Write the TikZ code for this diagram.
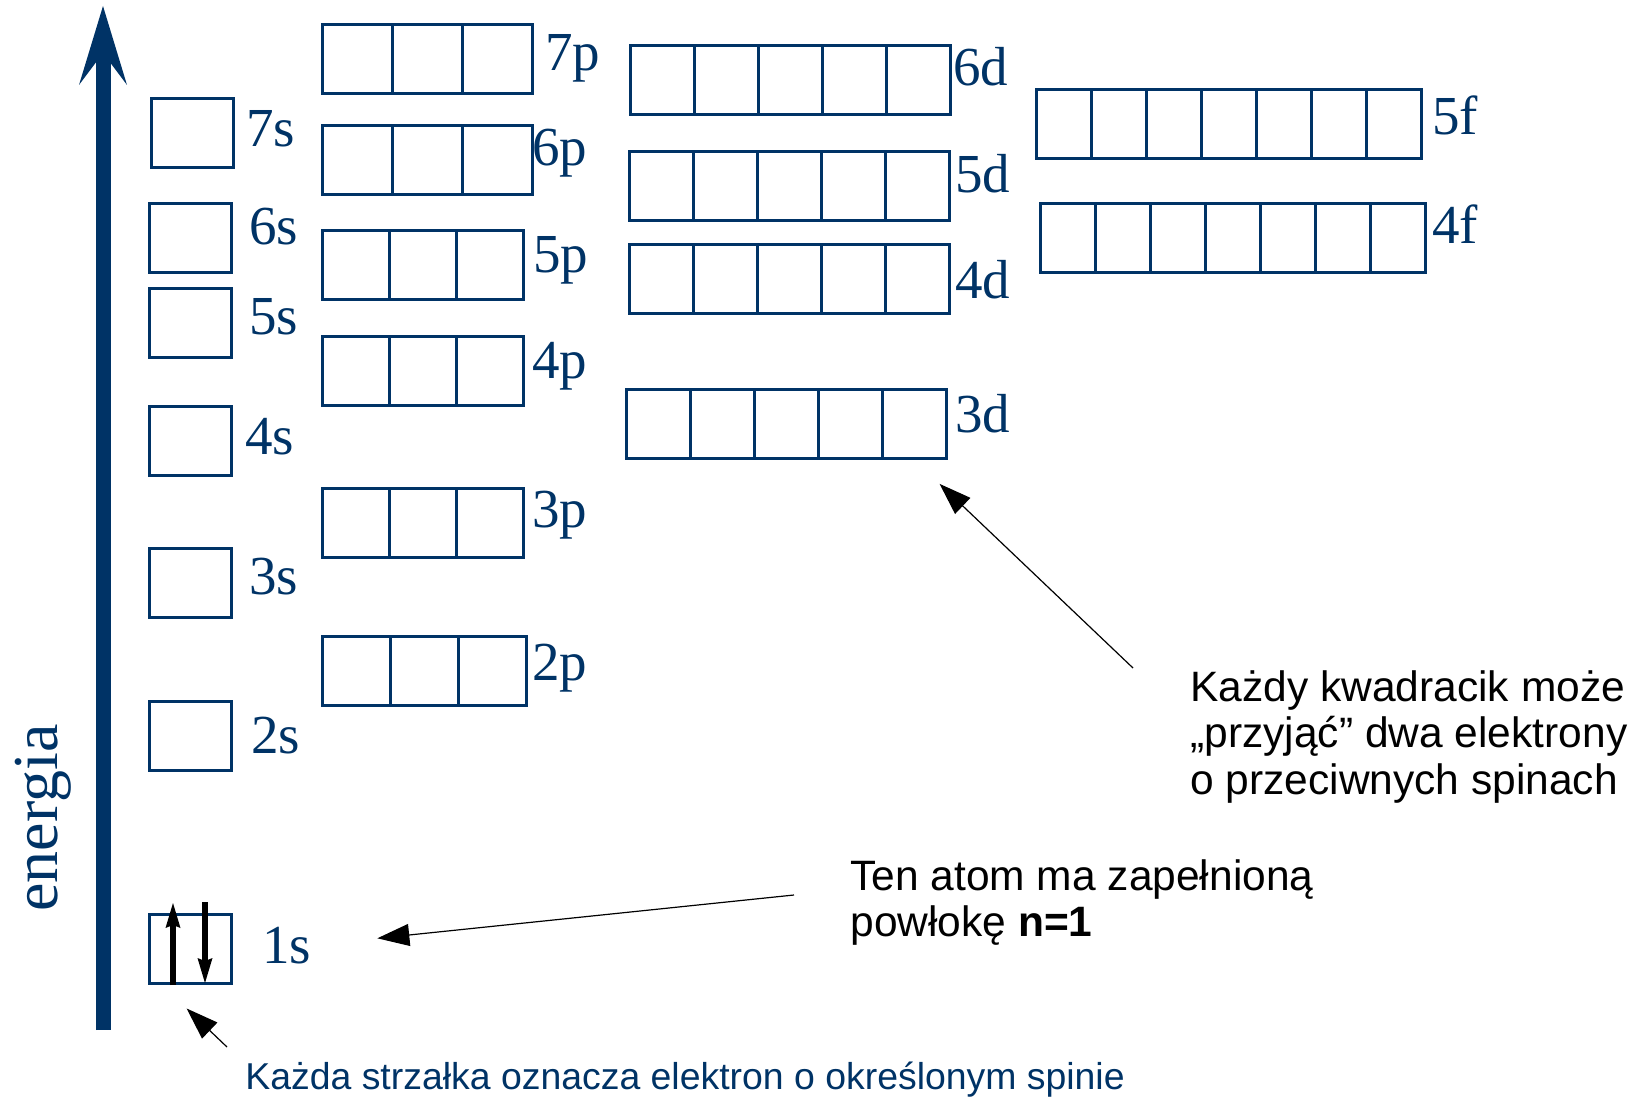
\documentclass[tikz,border=0pt]{standalone}
\usepackage{fontspec}
\setmainfont{Liberation Serif}
\setsansfont{Liberation Sans}
\usetikzlibrary{arrows.meta, positioning, calc}
\definecolor{navy}{RGB}{0,51,102}

\begin{document}
\begin{tikzpicture}[
  x=0.5pt, y=-0.5pt,
  cell/.style = {draw=navy, line width=1.5pt, inner sep=0pt, minimum height=34.5pt, anchor=north west},
  orbital/.style = {text=navy, font=\fontsize{27.5}{30}\selectfont, inner sep=0pt, anchor=base west},
  note/.style = {font=\sffamily\fontsize{21.25}{23.35}\selectfont, align=left, inner sep=0pt, anchor=north west},
  pointer/.style = {-{Triangle[length=16pt, width=11pt]}, line width=0.6pt},
  spin/.style = {-{Stealth[length=12.5pt, width=7.5pt, inset=1.5pt, line width=0pt]}, line width=3pt}
]
\useasboundingbox (0,0) rectangle (1645,1097);

% Energy axis
\coordinate (axis bottom) at (103,1030);
\coordinate (axis top) at (103,6);
\draw[navy, line width=7.5pt, -{Stealth[length=39.5pt, width=24pt, inset=16pt, line width=0pt]}] (axis bottom) -- (axis top);
\node[rotate=90, anchor=base, text=navy, font=\fontsize{32}{36}\selectfont, inner sep=0pt] (energia) at (57,818) {energia};

% s subshells
\foreach \n/\x/\y in {7/150/97, 6/148/202, 5/148/287, 4/148/405, 3/148/547, 2/148/700, 1/148/913}
  \node[cell, minimum width=41pt] (s\n) at (\x,\y) {};

% p subshells
\foreach \n/\x/\y/\w in {7/321/23/70, 6/321/124/70, 5/321/229/67, 4/321/335/67, 3/321/487/67, 2/321/635/68}
  \foreach \i in {1,2,3}
    \node[cell, minimum width=\w*0.5pt] (p\n-\i) at ({\x+(\i-1)*\w},\y) {};

% d subshells
\foreach \n/\x/\y in {6/629/44, 5/628/150, 4/628/243, 3/625/388}
  \foreach \i in {1,...,5}
    \node[cell, minimum width=32pt] (d\n-\i) at ({\x+(\i-1)*64},\y) {};

% f subshells
\foreach \n/\x/\y in {5/1035/88, 4/1039/202}
  \foreach \i in {1,...,7}
    \node[cell, minimum width=27.5pt] (f\n-\i) at ({\x+(\i-1)*55},\y) {};

% Subshell names
\foreach \t/\x/\y in {7s/246/147, 6s/249/244, 5s/249/334, 4s/245/454, 3s/249/594, 2s/251/753, 1s/262/963,
                      7p/545/71, 6p/532/166, 5p/533/272, 4p/532/378, 3p/532/527, 2p/532/680,
                      6d/953/86, 5d/955/192, 4d/955/298, 3d/955/432, 5f/1432/135, 4f/1432/243}
  \node[orbital] (l\t) at (\x,\y) {\t};

% Two electrons in 1s
\coordinate (up base) at ($(s1.south west)+(25,0)$);
\coordinate (up head) at ($(s1.north west)+(25,-10)$);
\coordinate (down base) at ($(s1.north west)+(57,-11)$);
\coordinate (down head) at ($(s1.south west)+(57,-2)$);
\draw[spin] (up base) -- (up head);
\draw[spin] (down base) -- (down head);

% === NOTES ===
\node[note] (kazdy) at (1190,670) {Każdy kwadracik może\\„przyjąć” dwa elektrony\\o przeciwnych spinach};
\node[note] (atom) at (850,859) {Ten atom ma zapełnioną\\powłokę \textbf{n=1}};
\node[font=\sffamily\fontsize{18.7}{22}\selectfont, text=navy, inner sep=0pt, anchor=base west] (spin note) at (245,1089) {Każda strzałka oznacza elektron o określonym spinie};

% Pointers
\coordinate (kazdy tail) at (1133,668);
\coordinate (atom tail) at (794,895);
\coordinate (spin tail) at (227,1047);
\draw[pointer, shorten >=17.3pt] (kazdy tail) -- (d3-5.south);
\draw[pointer, shorten >=33pt] (atom tail) -- (l1s.east);
\draw[pointer, shorten >=17pt] (spin tail) -- ($(s1.south west)+(14,0)$);

\end{tikzpicture}
\end{document}
